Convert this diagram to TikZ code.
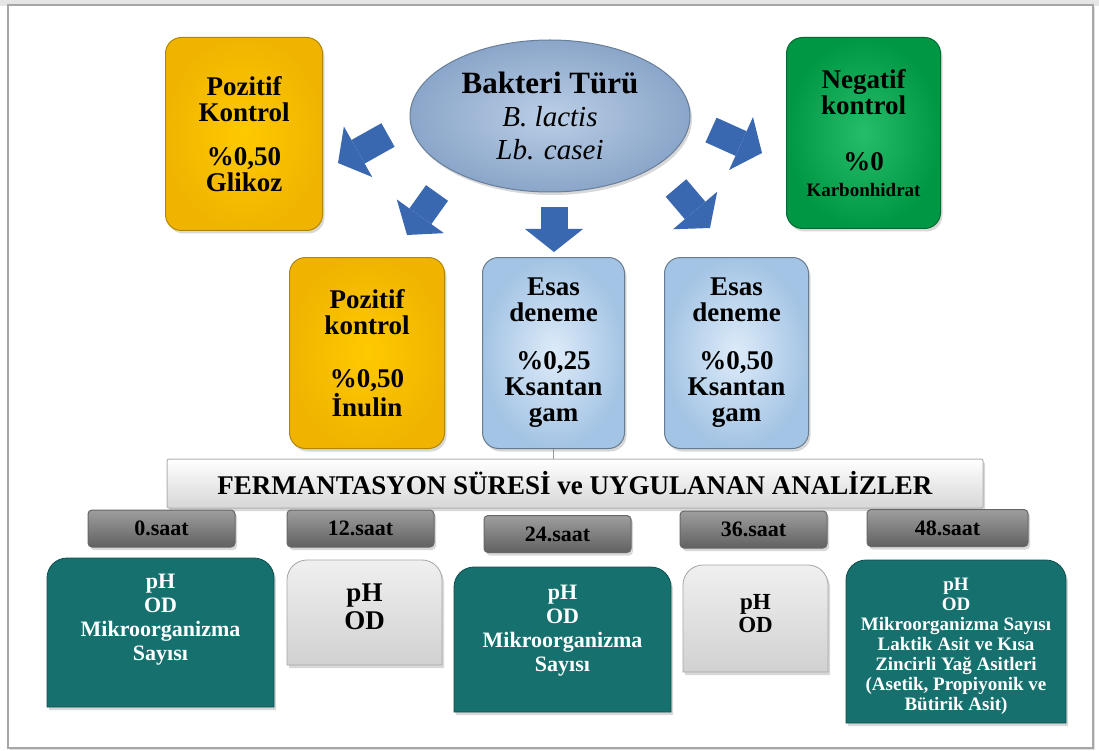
\documentclass[tikz,border=0pt]{standalone}
\usepackage{fontspec}
\setmainfont{Liberation Serif}
\usetikzlibrary{positioning,arrows.meta,shapes.geometric,shadows}

\definecolor{sari}{RGB}{255,192,0}
\definecolor{yesil}{RGB}{0,178,80}
\definecolor{acikmavi}{RGB}{172,206,240}
\definecolor{elips}{RGB}{150,180,218}
\definecolor{ok}{RGB}{58,104,176}
\definecolor{petrol}{RGB}{22,112,110}

\begin{document}
\begin{tikzpicture}[x=1pt,y=-1pt,
    golge/.style={drop shadow={opacity=0.3,shadow xshift=2pt,shadow yshift=-3pt}},
    kutu/.style={rounded corners=16pt,line width=1pt,anchor=north west,align=center,golge,
        font=\bfseries\fontsize{27}{26}\selectfont},
    sarikutu/.style={kutu,draw=sari!70!black,inner color=sari!85!yellow,outer color=sari!94!black},
    yesilkutu/.style={kutu,draw=yesil!60!black,inner color=yesil!85!white,outer color=yesil!85!black},
    mavikutu/.style={kutu,draw=acikmavi!60!black,inner color=acikmavi!40!white,outer color=acikmavi!95!black},
    saatkutu/.style={rounded corners=4pt,draw=black!60,line width=1pt,top color=black!38,bottom color=black!62,golge,
        minimum width=147,minimum height=37,font=\bfseries\fontsize{22}{24}\selectfont},
    altkutu/.style={line width=0.8pt,golge},
    petrolkutu/.style={altkutu,draw=petrol!70!black,fill=petrol},
    grikutu/.style={altkutu,draw=black!35,top color=black!6,bottom color=black!18},
    beyaz/.style={text=white,align=center,font=\bfseries\fontsize{22}{24}\selectfont},
    siyah/.style={align=center,font=\bfseries\fontsize{27}{28}\selectfont},
    blok/.style={draw=ok,line width=27pt,-{Triangle[width=58pt,length=23pt,line width=0pt]}},
]
    \useasboundingbox (0,0) rectangle (1099,751);
    % cerceve
    \fill[black!10] (0,0) rectangle (1099,6);
    \draw[black!35,line width=1.5pt,fill=white,drop shadow={opacity=0.25}] (8,5) rectangle (1093,748);

    % ust satir
    \node[sarikutu,minimum width=157,minimum height=193] (pozitif) at (165,37)
        {Pozitif\\Kontrol\\[18pt]\%0,50\\Glikoz};
    \node[ellipse,golge,draw=elips!70!black,line width=1pt,inner color=elips!65!white,outer color=elips!92!black,
        minimum width=280,minimum height=152,inner sep=0pt,align=center,
        font=\fontsize{29}{33}\selectfont] (bakteri) at (550,116)
        {{\bfseries\fontsize{31}{33}\selectfont Bakteri Türü}\\
         \textit{B. lactis}\\
         \textit{Lb. casei}};
    \node[yesilkutu,minimum width=154,minimum height=191] (negatif) at (786,37)
        {Negatif\\kontrol\\[30pt]\%0\\{\fontsize{19}{22}\selectfont Karbonhidrat}};

    % orta satir
    \node[sarikutu,minimum width=155,minimum height=191] (inulin) at (289,257)
        {Pozitif\\kontrol\\[27pt]\%0,50\\İnulin};
    \node[mavikutu,minimum width=142,minimum height=191] (esas1) at (482,257)
        {Esas\\deneme\\[22pt]\%0,25\\Ksantan\\gam};
    \node[mavikutu,minimum width=144,minimum height=191] (esas2) at (664,257)
        {Esas\\deneme\\[22pt]\%0,50\\Ksantan\\gam};

    % bloklu oklar
    \coordinate (ok1a) at (388,135); \coordinate (ok1b) at (338,163);
    \coordinate (ok2a) at (437,193); \coordinate (ok2b) at (407,235);
    \coordinate (ok3a) at (554,207); \coordinate (ok3b) at (554,252);
    \coordinate (ok4a) at (676,188); \coordinate (ok4b) at (710,228);
    \coordinate (ok5a) at (711,130); \coordinate (ok5b) at (762,153);
    \draw[blok] (ok1a) -- (ok1b);
    \draw[blok] (ok2a) -- (ok2b);
    \draw[blok] (ok3a) -- (ok3b);
    \draw[blok] (ok4a) -- (ok4b);
    \draw[blok] (ok5a) -- (ok5b);

    % baslik
    \node[draw=black!30,line width=1pt,rounded corners=2pt,top color=white,bottom color=black!16,golge,
        minimum width=816,minimum height=49,font=\bfseries\fontsize{27}{28}\selectfont] (baslik) at (575,483.5)
        {FERMANTASYON SÜRESİ ve UYGULANAN ANALİZLER};
    \draw[black!40,line width=1pt] (esas1.south) -- (esas1.south |- baslik.north);

    % saatler
    \node[saatkutu] (s0) at (161.5,528.5) {0.saat};
    \node[saatkutu] (s12) at (360.5,528.5) {12.saat};
    \node[saatkutu] (s24) at (557.5,534) {24.saat};
    \node[saatkutu] (s36) at (753.5,529.5) {36.saat};
    \node[saatkutu,minimum width=161] (s48) at (947.5,528) {48.saat};

    % analiz kutulari
    \path[petrolkutu] (47,707) [rounded corners=20pt] -- (47,558) -- (274,558) [sharp corners] -- (274,707) -- cycle;
    \path[grikutu] (287,665) [rounded corners=20pt] -- (287,560) -- (442,560) [sharp corners] -- (442,665) -- cycle;
    \path[petrolkutu] (454,712) [rounded corners=20pt] -- (454,567) -- (671,567) [sharp corners] -- (671,712) -- cycle;
    \path[grikutu] (683,672) [rounded corners=20pt] -- (683,565) -- (828,565) [sharp corners] -- (828,672) -- cycle;
    \path[petrolkutu] (846,723) [rounded corners=20pt] -- (846,560) -- (1066,560) [sharp corners] -- (1066,723) -- cycle;

    \node[beyaz] (a0) at (160.5,620) {pH\\OD\\Mikroorganizma\\Sayısı};
    \node[siyah] (a12) at (364.5,607) {pH\\OD};
    \node[beyaz] (a24) at (562.5,631) {pH\\OD\\Mikroorganizma\\Sayısı};
    \node[siyah,font=\bfseries\fontsize{23}{23}\selectfont] (a36) at (755.5,614) {pH\\OD};
    \node[beyaz,font=\bfseries\fontsize{19}{20}\selectfont] (a48) at (956,646)
        {pH\\OD\\Mikroorganizma Sayısı\\Laktik Asit ve Kısa\\Zincirli Yağ Asitleri\\(Asetik, Propiyonik ve\\Bütirik Asit)};
\end{tikzpicture}
\end{document}
